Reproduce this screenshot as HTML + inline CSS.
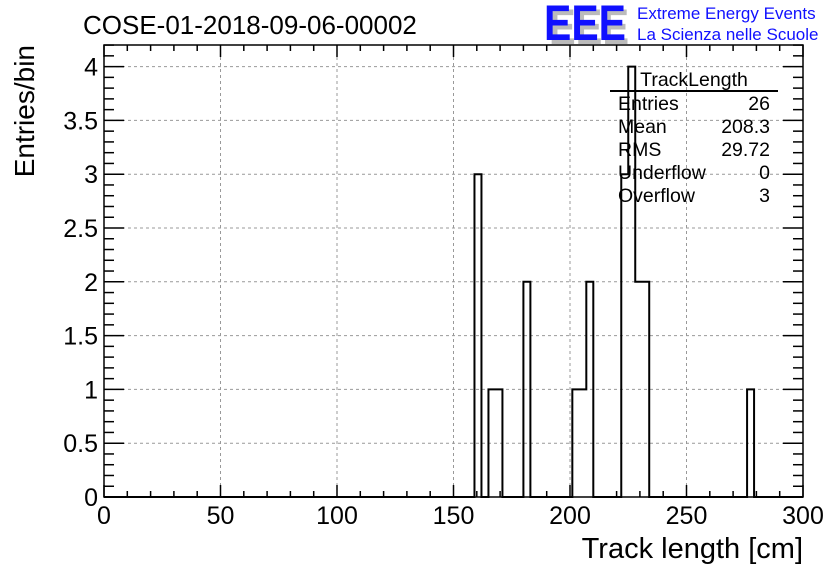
<!DOCTYPE html>
<html><head><meta charset="utf-8"><style>
body{margin:0;background:#fff}
svg{display:block;font-family:"Liberation Sans",sans-serif}
</style></head><body>
<svg id="chart" width="836" height="572" viewBox="0 0 836 572">
<rect width="836" height="572" fill="#fff"/>
<text x="83" y="34" font-size="26">COSE-01-2018-09-06-00002</text>
<g>
<text x="549" y="44" font-size="50" fill="#bbb" font-weight="bold" textLength="80" lengthAdjust="spacingAndGlyphs">EEE</text>
<text x="544" y="40" font-size="50" fill="#1010ff" font-weight="bold" textLength="82" lengthAdjust="spacingAndGlyphs">EEE</text>
<text x="637" y="19" font-size="17" fill="#1010ff">Extreme Energy Events</text>
<text x="637" y="40" font-size="17" fill="#1010ff">La Scienza nelle Scuole</text>
</g>
<g id="grid"></g><g id="ticks"></g><g id="hist"></g>
<rect x="104" y="45" width="699" height="452" fill="none" stroke="#000" stroke-width="1.5"/>
<text x="803" y="558" font-size="29" text-anchor="end">Track length [cm]</text>
<text transform="translate(34,45) rotate(-90)" font-size="28" text-anchor="end">Entries/bin</text>
<g font-size="19.5">
<text x="694" y="86" text-anchor="middle">TrackLength</text>
<line x1="610" y1="91" x2="778" y2="91" stroke="#000" stroke-width="2"/>
<text x="618" y="110">Entries</text><text x="770" y="110" text-anchor="end">26</text>
<text x="618" y="133">Mean</text><text x="770" y="133" text-anchor="end">208.3</text>
<text x="618" y="156">RMS</text><text x="770" y="156" text-anchor="end">29.72</text>
<text x="618" y="179">Underflow</text><text x="770" y="179" text-anchor="end">0</text>
<text x="618" y="202">Overflow</text><text x="770" y="202" text-anchor="end">3</text>
</g>
</svg>
<script>
const binLow = [159,165,168,180,201,204,207,222,225,228,231,276];
const binCounts = [3,1,1,2,1,1,2,3,4,2,2,1];
const binWidth = 3;
const xTicks = [0,50,100,150,200,250,300];
const yTicks = [0,0.5,1,1.5,2,2.5,3,3.5,4];
const yTickLabels = ["0","0.5","1","1.5","2","2.5","3","3.5","4"];
const NS="http://www.w3.org/2000/svg";
const X=v=>104+v*699/300, Y=v=>497-v*107.6;
function mk(t,a,p){const e=document.createElementNS(NS,t);for(const k in a)e.setAttribute(k,a[k]);p.appendChild(e);return e;}
const grid=document.getElementById('grid'),ticks=document.getElementById('ticks'),hist=document.getElementById('hist');
xTicks.forEach(v=>{
 if(v>0&&v<300){const l=mk('line',{x1:X(v),x2:X(v),y1:45,y2:497,stroke:'#999','stroke-dasharray':'3,3'},grid);
 
 }
 const t=mk('text',{x:X(v),y:524,'font-size':25,'text-anchor':'middle'},ticks);t.textContent=v;
 
 
});
for(let v=0;v<=300;v+=10){const L=v%50==0?12:6;
 mk('line',{x1:X(v),x2:X(v),y1:497,y2:497-L,stroke:'#000','stroke-width':1.5},ticks);
 mk('line',{x1:X(v),x2:X(v),y1:45,y2:45+L,stroke:'#000','stroke-width':1.5},ticks);}
yTicks.forEach((v,i)=>{
 if(v>0){const l=mk('line',{x1:104,x2:803,y1:Y(v),y2:Y(v),stroke:'#999','stroke-dasharray':'3,3'},grid);
 
 }
 const t=mk('text',{x:98,y:Y(v)+9,'font-size':25,'text-anchor':'end'},ticks);t.textContent=yTickLabels[i];
 
 
});
for(let i=0;i<=42;i++){const v=i/10;const L=i%5==0?20:10;
 mk('line',{x1:104,x2:104+L,y1:Y(v),y2:Y(v),stroke:'#000','stroke-width':1.5},ticks);
 mk('line',{x1:803,x2:803-L,y1:Y(v),y2:Y(v),stroke:'#000','stroke-width':1.5},ticks);}
// step outline over all bins
const nb=Math.round(300/binWidth), cnt=new Array(nb).fill(0);
binLow.forEach((b,i)=>{const k=Math.round(b/binWidth);if(k>=0&&k<nb)cnt[k]=binCounts[i];});
let d='M'+X(0)+','+Y(cnt[0]);
for(let k=0;k<nb;k++){d+=' L'+X(k*binWidth)+','+Y(cnt[k])+' L'+X((k+1)*binWidth)+','+Y(cnt[k]);}
const p=mk('path',{d:d,fill:'none',stroke:'#000','stroke-width':2},hist);


</script>
</body></html>
